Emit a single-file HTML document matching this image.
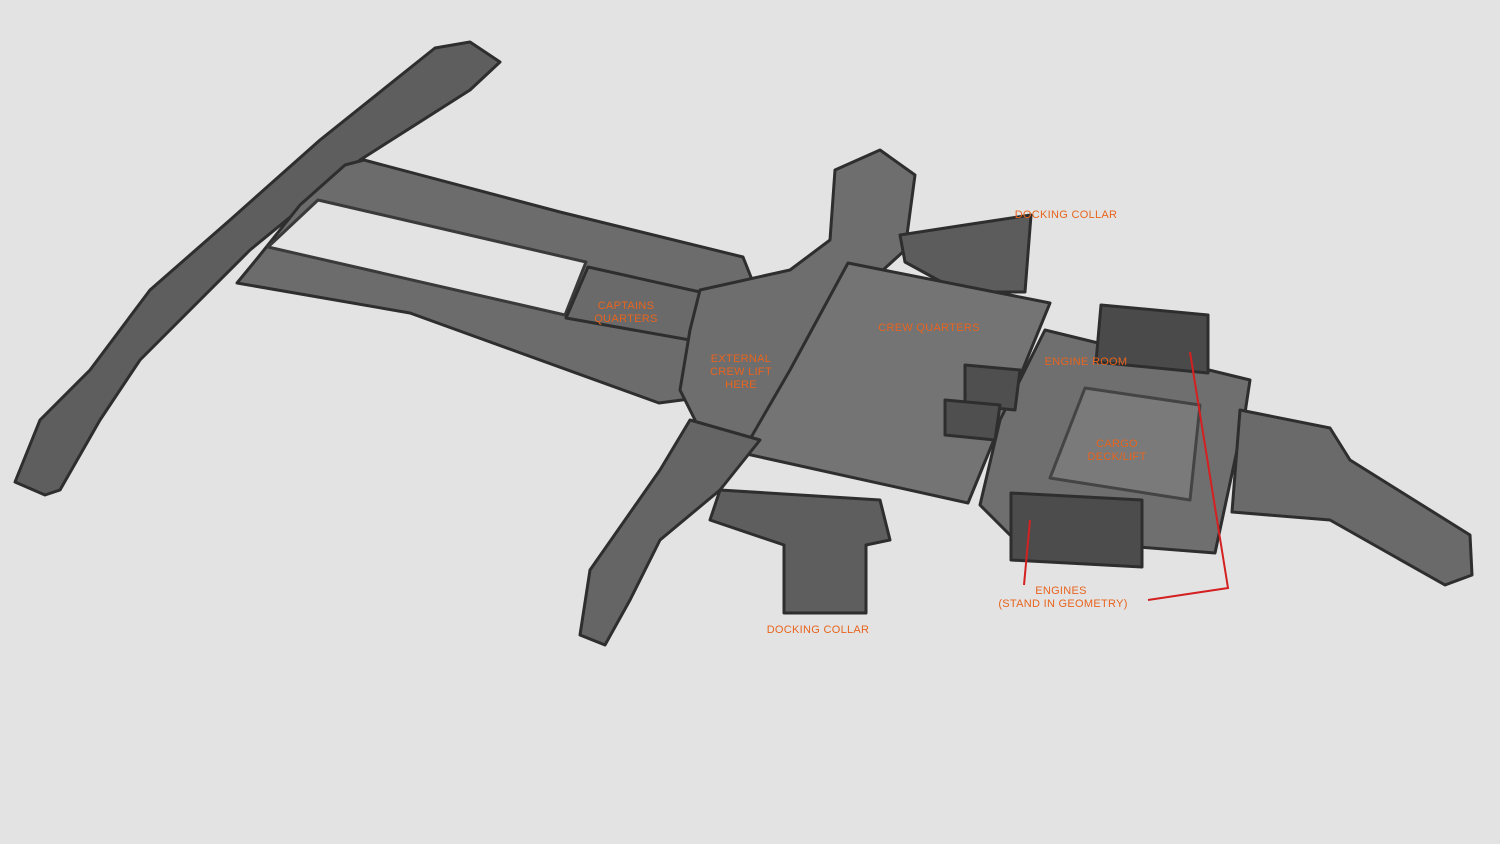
<!DOCTYPE html>
<html><head><meta charset="utf-8"><style>
html,body{margin:0;padding:0;background:#e3e3e3;}
svg{display:block}
text{font-family:"Liberation Sans",sans-serif;font-size:11px;fill:#e8641e;text-anchor:middle;letter-spacing:0.3px}
</style></head><body>
<svg width="1500" height="844" viewBox="0 0 1500 844" xmlns="http://www.w3.org/2000/svg">
<rect width="1500" height="844" fill="#e3e3e3"/>
<g stroke="#2e2e2e" stroke-width="3" stroke-linejoin="round">
<!-- long diagonal arm -->
<polygon points="435,48 470,42 500,62 470,90 360,160 250,250 200,300 140,360 100,420 60,490 45,495 15,482 40,420 90,370 150,290 230,220 320,140" fill="#5e5e5e"/>
<!-- corridor envelope -->
<polygon points="345,165 364,160 560,212 743,257 760,300 720,395 659,403 410,313 237,283 260,255 300,205" fill="#6c6c6c"/>
<!-- inner light void -->
<polygon points="318,200 586,262 565,315 268,247" fill="#e3e3e3" stroke="#3a3a3a"/>
<!-- captains quarters -->
<polygon points="588,267 700,292 690,340 566,318" fill="#6a6a6a"/>
<!-- hub & upper dock -->
<polygon points="700,290 790,270 830,240 835,170 880,150 915,175 905,250 850,300 800,390 770,440 700,430 680,390 690,330" fill="#6e6e6e"/>
<!-- top right docking collar -->
<polygon points="900,235 965,225 1031,215 1025,292 960,292 905,262" fill="#5c5c5c"/>
<!-- crew quarters slab -->
<polygon points="848,263 1050,303 968,503 742,453 790,370" fill="#747474"/>
<!-- cargo/engine slab -->
<polygon points="1045,330 1250,380 1245,413 1215,553 1012,537 980,505 1000,420" fill="#6f6f6f"/>
<polygon points="1085,388 1200,405 1190,500 1050,478" fill="#7a7a7a" stroke="#444"/>
<!-- lower-left arm -->
<polygon points="690,420 760,440 720,490 660,540 630,600 605,645 580,635 590,570 625,520 660,470" fill="#656565"/>
<!-- lower dock -->
<polygon points="720,490 880,500 890,540 866,545 866,613 784,613 784,545 710,520" fill="#5e5e5e"/>
<!-- right tail -->
<polygon points="1240,410 1330,428 1350,460 1470,535 1472,575 1445,585 1330,520 1232,512" fill="#6a6a6a"/>
<!-- engine room box -->
<polygon points="1101,305 1208,315 1208,373 1096,362" fill="#4a4a4a"/>
<!-- engines box -->
<polygon points="1011,493 1142,500 1142,567 1011,560" fill="#4c4c4c"/>
<!-- small boxes -->
<polygon points="965,365 1020,370 1015,410 965,405" fill="#4f4f4f"/>
<polygon points="945,400 1000,405 995,440 945,435" fill="#4f4f4f"/>
</g>
<g stroke="#d42020" stroke-width="2" fill="none">
<polyline points="1190,352 1228,588 1148,600"/>
<polyline points="1030,520 1024,585"/>
</g>
<text x="1066" y="218">DOCKING COLLAR</text>
<text x="626" y="309">CAPTAINS</text><text x="626" y="322">QUARTERS</text>
<text x="741" y="362">EXTERNAL</text><text x="741" y="375">CREW LIFT</text><text x="741" y="388">HERE</text>
<text x="929" y="331">CREW QUARTERS</text>
<text x="1086" y="365">ENGINE ROOM</text>
<text x="1117" y="447">CARGO</text><text x="1117" y="460">DECK/LIFT</text>
<text x="1061" y="594">ENGINES</text>
<text x="1063" y="607">(STAND IN GEOMETRY)</text>
<text x="818" y="633">DOCKING COLLAR</text>
</svg>
</body></html>
